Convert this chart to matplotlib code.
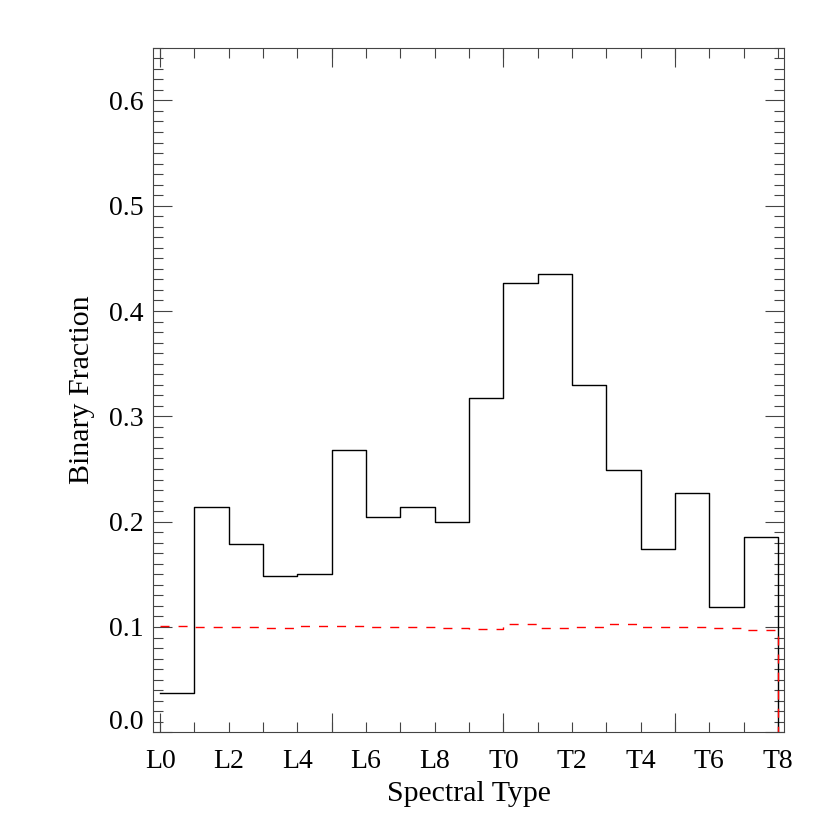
import matplotlib.pyplot as plt
import matplotlib.ticker as mticker
import numpy as np

# spectral type index: L0=0 ... L9=9, T0=10 ... T8=18
bin_edges = np.arange(0, 19)
tick_pos = [0, 2, 4, 6, 8, 10, 12, 14, 16, 18]
tick_names = ['L0', 'L2', 'L4', 'L6', 'L8', 'T0', 'T2', 'T4', 'T6', 'T8']

binary_frac = [0.037, 0.214, 0.179, 0.148, 0.150, 0.268, 0.204, 0.214, 0.200,
               0.317, 0.427, 0.435, 0.330, 0.249, 0.174, 0.227, 0.119, 0.185]
input_frac = [0.101, 0.100, 0.0997, 0.0988, 0.1007, 0.1007, 0.100, 0.100, 0.099,
              0.0978, 0.1029, 0.099, 0.1004, 0.1029, 0.1004, 0.1002, 0.099, 0.0975]

plt.rcParams['font.family'] = ['Liberation Serif', 'DejaVu Serif']
plt.rcParams['font.size'] = 20

fig = plt.figure(figsize=(8.3, 8.3), dpi=100)
ax = fig.add_axes([0.1847, 0.1177, 0.76, 0.8248])

ax.step(bin_edges, np.append(binary_frac, 0), where='post', color='black', lw=1.0)
ax.step(bin_edges, np.append(input_frac, 0), where='post', color='red', lw=1.0,
        dashes=(6.5, 6.5))

ax.set_xlim(-0.2, 18.18)
ax.set_ylim(0, 0.65)

# x: long ticks every 5, short ticks every 1, labels every 2
ax.xaxis.remove_overlapping_locs = False
ax.xaxis.set_major_locator(mticker.FixedLocator([0, 5, 10, 15]))
ax.xaxis.set_major_formatter(mticker.NullFormatter())
ax.xaxis.set_minor_locator(mticker.FixedLocator(bin_edges))
lab = {p: n for p, n in zip(tick_pos, tick_names)}
ax.xaxis.set_minor_formatter(mticker.FuncFormatter(lambda v, i: lab.get(int(round(v)), '')))

# y: the 0.0 label is drawn separately, a bit above the axis
ax.yaxis.set_major_locator(mticker.MultipleLocator(0.1))
ax.yaxis.set_major_formatter(mticker.FuncFormatter(lambda v, i: '' if abs(v) < 1e-9 else '%.1f' % v))
ax.yaxis.set_minor_locator(mticker.MultipleLocator(0.01))
ax.annotate('0.0', xy=(0, 0), xycoords=('axes fraction', 'data'),
            xytext=(-7, 7.2), textcoords='offset points', ha='right', va='center', fontsize=20)

ax.tick_params(which='both', direction='in', top=True, right=True, width=0.8, color='#444444')
ax.tick_params(which='major', length=14)
ax.tick_params(which='minor', length=7)
ax.tick_params(axis='x', which='both', pad=12)
ax.tick_params(axis='y', which='both', pad=7)

for s in ax.spines.values():
    s.set_linewidth(0.8)
    s.set_color('#444444')

ax.set_xlabel('Spectral Type', fontsize=21.5, labelpad=5)
ax.set_ylabel('Binary Fraction', fontsize=21.5, labelpad=10)

fig.savefig('out.png', dpi=100)
